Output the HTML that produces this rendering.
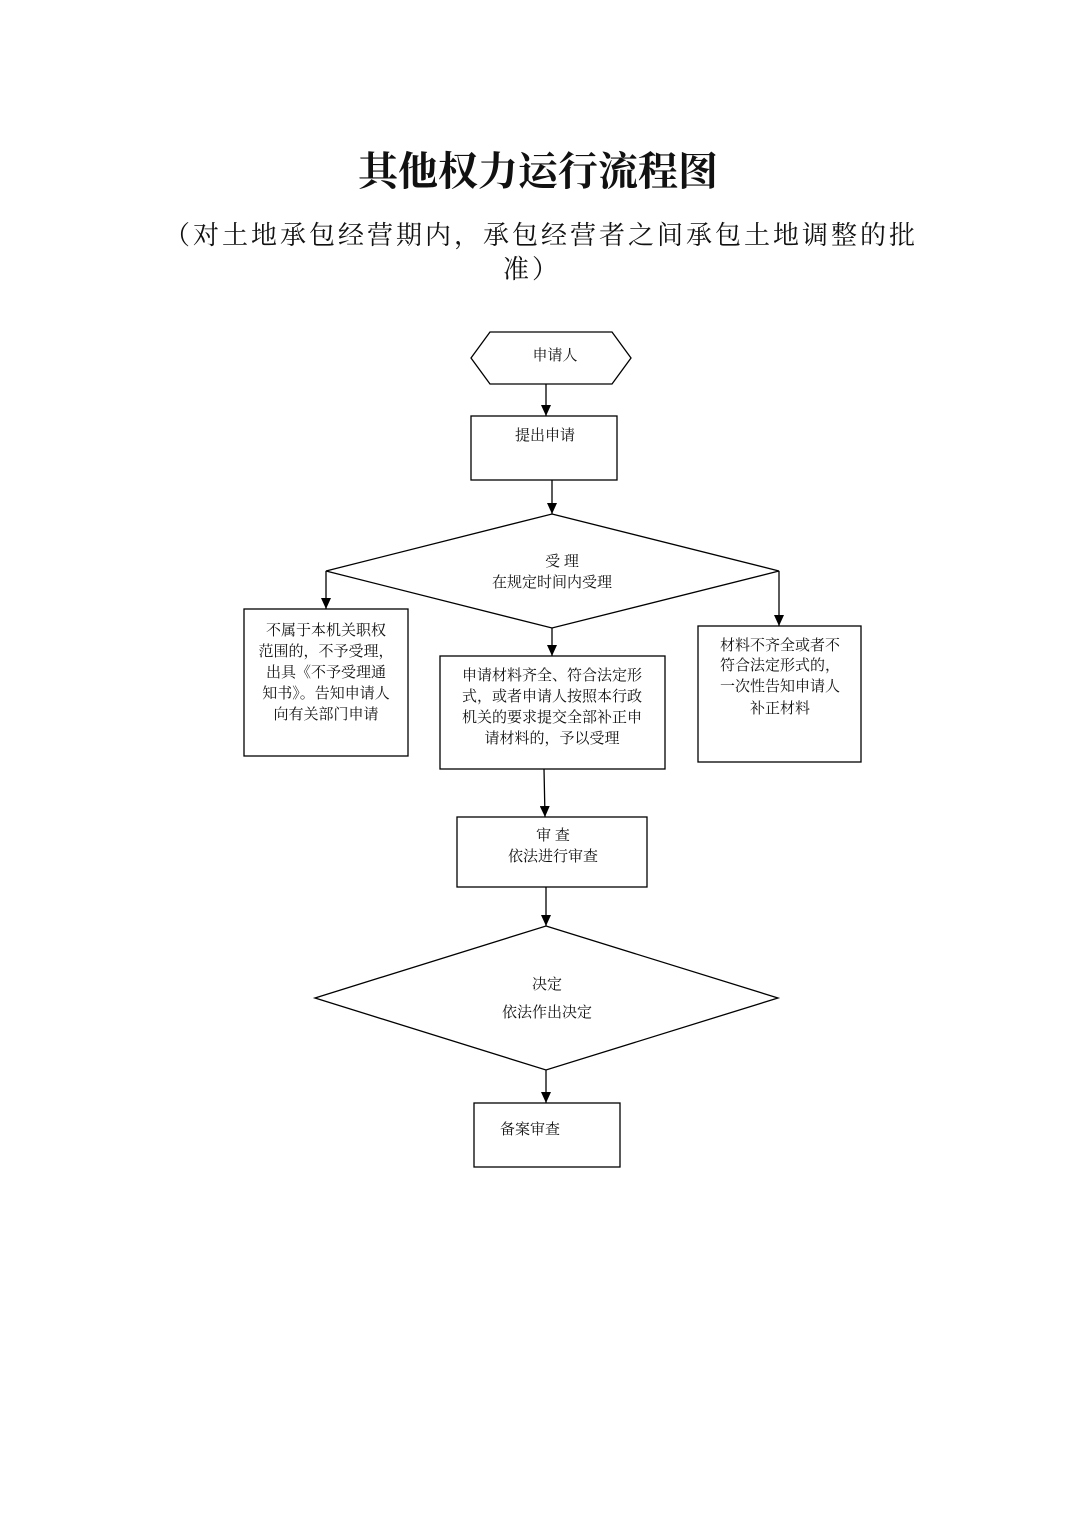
<!DOCTYPE html>
<html><head><meta charset="utf-8"><style>
html,body{margin:0;padding:0;background:#fff;}
svg{display:block;}
text{font-family:"Liberation Serif","Noto Serif CJK SC","Noto Sans CJK SC",serif;fill:#111;}
.t{font-size:15px;text-anchor:middle;}
</style></head><body>
<svg width="1074" height="1520" viewBox="0 0 1074 1520" xmlns="http://www.w3.org/2000/svg">
<defs><marker id="a" markerWidth="12" markerHeight="10" refX="11" refY="5" orient="auto" markerUnits="userSpaceOnUse"><path d="M0,0 L11,5 L0,10 Z" fill="#000"/></marker></defs>
<text x="538" y="185" style="font-size:40px;font-weight:bold;text-anchor:middle">其他权力运行流程图</text>
<text x="541" y="244" style="font-size:26px;text-anchor:middle;letter-spacing:3px">（对土地承包经营期内，承包经营者之间承包土地调整的批</text>
<text x="532" y="278" style="font-size:26px;text-anchor:middle;letter-spacing:3px">准）</text>
<g fill="none" stroke="#000" stroke-width="1.3">
<polygon points="471,358 490,332 612,332 631,358 612,384 490,384"/>
<rect x="471" y="416" width="146" height="64"/>
<polygon points="552,514 779,571 552,628 326,571"/>
<rect x="244" y="609" width="164" height="147"/>
<rect x="440" y="656" width="225" height="113"/>
<rect x="698" y="626" width="163" height="136"/>
<rect x="457" y="817" width="190" height="70"/>
<polygon points="546,926 778,998 546,1070 315,998"/>
<rect x="474" y="1103" width="146" height="64"/>
</g>
<g stroke="#000" stroke-width="1.3" marker-end="url(#a)">
<line x1="546" y1="384" x2="546" y2="416"/>
<line x1="552" y1="480" x2="552" y2="514"/>
<line x1="326" y1="571" x2="326" y2="609"/>
<line x1="552" y1="628" x2="552" y2="656"/>
<line x1="779" y1="571" x2="779" y2="626"/>
<line x1="544" y1="769" x2="545" y2="817"/>
<line x1="546" y1="887" x2="546" y2="926"/>
<line x1="546" y1="1070" x2="546" y2="1103"/>
</g>
<text class="t" x="555" y="360">申请人</text>
<text class="t" x="545" y="440">提出申请</text>
<text class="t" x="562" y="566">受 理</text>
<text class="t" x="552" y="587">在规定时间内受理</text>
<text class="t" x="326" y="635">不属于本机关职权</text>
<text class="t" x="326" y="656">范围的，不予受理，</text>
<text class="t" x="326" y="677">出具《不予受理通</text>
<text class="t" x="326" y="698">知书》。告知申请人</text>
<text class="t" x="326" y="719">向有关部门申请</text>
<text class="t" x="552" y="680">申请材料齐全、符合法定形</text>
<text class="t" x="552" y="701">式，或者申请人按照本行政</text>
<text class="t" x="552" y="722">机关的要求提交全部补正申</text>
<text class="t" x="552" y="743">请材料的，予以受理</text>
<text class="t" x="780" y="650">材料不齐全或者不</text>
<text class="t" x="780" y="670">符合法定形式的，</text>
<text class="t" x="780" y="691">一次性告知申请人</text>
<text class="t" x="780" y="713">补正材料</text>
<text class="t" x="553" y="840">审  查</text>
<text class="t" x="553" y="861">依法进行审查</text>
<text class="t" x="547" y="989">决定</text>
<text class="t" x="547" y="1017">依法作出决定</text>
<text class="t" x="530" y="1134">备案审查</text>
</svg>
</body></html>
